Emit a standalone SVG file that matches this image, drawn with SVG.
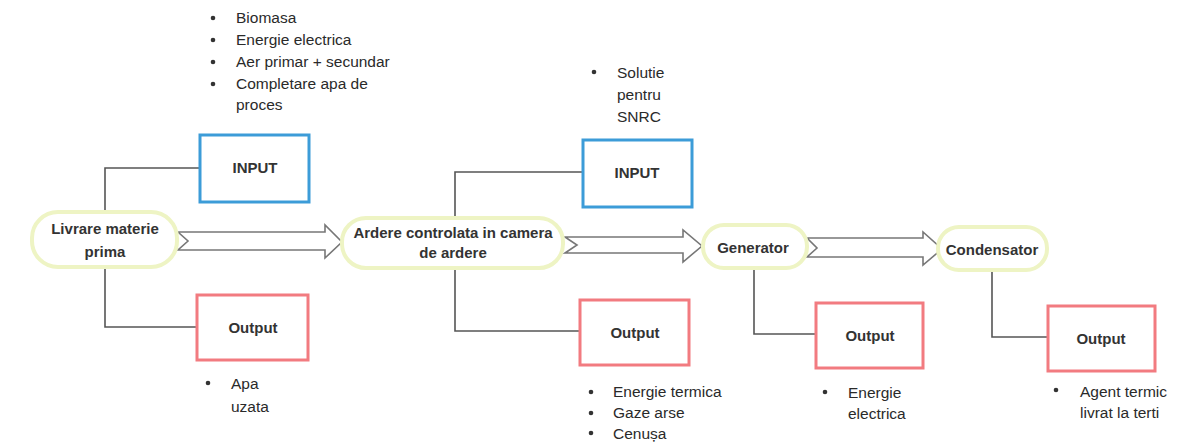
<svg xmlns="http://www.w3.org/2000/svg" width="1181" height="443" viewBox="0 0 1181 443">
<style>
.bg{fill:#fbfdf2}
.pill{fill:#ffffff;stroke:#eef4c4;stroke-width:4}
.lbl{font-family:"Liberation Sans",Arial,sans-serif;font-weight:bold;font-size:15px;fill:#333;text-anchor:middle}
.box{fill:#ffffff;stroke-width:3}
.in{stroke:#3c9cd8}
.out{stroke:#f27b80}
.bt{font-family:"Liberation Sans",Arial,sans-serif;font-size:15.5px;fill:#2a2a2a}
.dot{fill:#333}
.conn{fill:none;stroke:#555;stroke-width:1.6}
.arr{fill:#ffffff;stroke:#777;stroke-width:1.6;stroke-linejoin:miter}
</style>
<rect width="1181" height="443" fill="#ffffff"/>
<g id="connectors">
<polyline class="conn" points="200,168 105,168 105,327 197,327"/>
<polyline class="conn" points="583,172 455,172 455,331 580,331"/>
<polyline class="conn" points="754,268 754,334 816,334"/>
<polyline class="conn" points="992,270 992,337 1048,337"/>
<polygon class="arr" points="178,232 325,232 325,225 342,242 325,258 325,250 178,250 188,241"/>
<polygon class="arr" points="565,237 683,237 683,230 702,246 683,262 683,253 565,253 577,245"/>
<polygon class="arr" points="807,238 923,238 923,232 942,249 923,265 923,257 807,257 817,248"/>
</g>
<g id="n-livrare">
<rect class="pill" x="32" y="212" width="145" height="55" rx="26"/>
<text class="lbl" x="105" y="234">Livrare materie</text>
<text class="lbl" x="105" y="257">prima</text>
</g>
<g id="n-ardere">
<rect class="pill" x="342" y="218" width="221" height="50" rx="24"/>
<text class="lbl" x="453" y="238">Ardere controlata in camera</text>
<text class="lbl" x="453" y="258">de ardere</text>
</g>
<g id="n-generator">
<rect class="pill" x="703" y="225" width="104" height="43" rx="21"/>
<text class="lbl" x="753" y="253">Generator</text>
</g>
<g id="n-condensator">
<rect class="pill" x="938" y="227" width="109" height="43" rx="21"/>
<text class="lbl" x="992" y="255">Condensator</text>
</g>
<g id="input1">
<rect class="box in" x="200" y="135" width="109" height="67"/>
<text class="lbl" x="255" y="173">INPUT</text>
</g>
<g id="output1">
<rect class="box out" x="197" y="295" width="111" height="65"/>
<text class="lbl" x="253" y="333">Output</text>
</g>
<g id="input2">
<rect class="box in" x="583" y="140" width="109" height="67"/>
<text class="lbl" x="637" y="178">INPUT</text>
</g>
<g id="output2">
<rect class="box out" x="580" y="300" width="109" height="65"/>
<text class="lbl" x="635" y="338">Output</text>
</g>
<g id="output3">
<rect class="box out" x="816" y="303" width="107" height="65"/>
<text class="lbl" x="870" y="341">Output</text>
</g>
<g id="output4">
<rect class="box out" x="1048" y="306" width="107" height="65"/>
<text class="lbl" x="1101" y="344">Output</text>
</g>
<g id="list-input1">
<circle class="dot" cx="213" cy="18" r="2.3"/>
<circle class="dot" cx="213" cy="40" r="2.3"/>
<circle class="dot" cx="213" cy="62" r="2.3"/>
<circle class="dot" cx="213" cy="84" r="2.3"/>
<text class="bt" x="236" y="23">Biomasa</text>
<text class="bt" x="236" y="45">Energie electrica</text>
<text class="bt" x="236" y="67">Aer primar + secundar</text>
<text class="bt" x="236" y="89">Completare apa de</text>
<text class="bt" x="236" y="110">proces</text>
</g>
<g id="list-input2">
<circle class="dot" cx="594" cy="72" r="2.3"/>
<text class="bt" x="617" y="78">Solutie</text>
<text class="bt" x="617" y="100">pentru</text>
<text class="bt" x="617" y="122">SNRC</text>
</g>
<g id="list-output1">
<circle class="dot" cx="208" cy="383" r="2.3"/>
<text class="bt" x="231" y="389">Apa</text>
<text class="bt" x="231" y="412">uzata</text>
</g>
<g id="list-output2">
<circle class="dot" cx="591" cy="392" r="2.3"/>
<circle class="dot" cx="591" cy="413" r="2.3"/>
<circle class="dot" cx="591" cy="433" r="2.3"/>
<text class="bt" x="613" y="397">Energie termica</text>
<text class="bt" x="613" y="418">Gaze arse</text>
<text class="bt" x="613" y="439">Cenușa</text>
</g>
<g id="list-output3">
<circle class="dot" cx="825" cy="392" r="2.3"/>
<text class="bt" x="848" y="398">Energie</text>
<text class="bt" x="848" y="419">electrica</text>
</g>
<g id="list-output4">
<circle class="dot" cx="1056" cy="390" r="2.3"/>
<text class="bt" x="1080" y="397">Agent termic</text>
<text class="bt" x="1080" y="418">livrat la terti</text>
</g>
</svg>
